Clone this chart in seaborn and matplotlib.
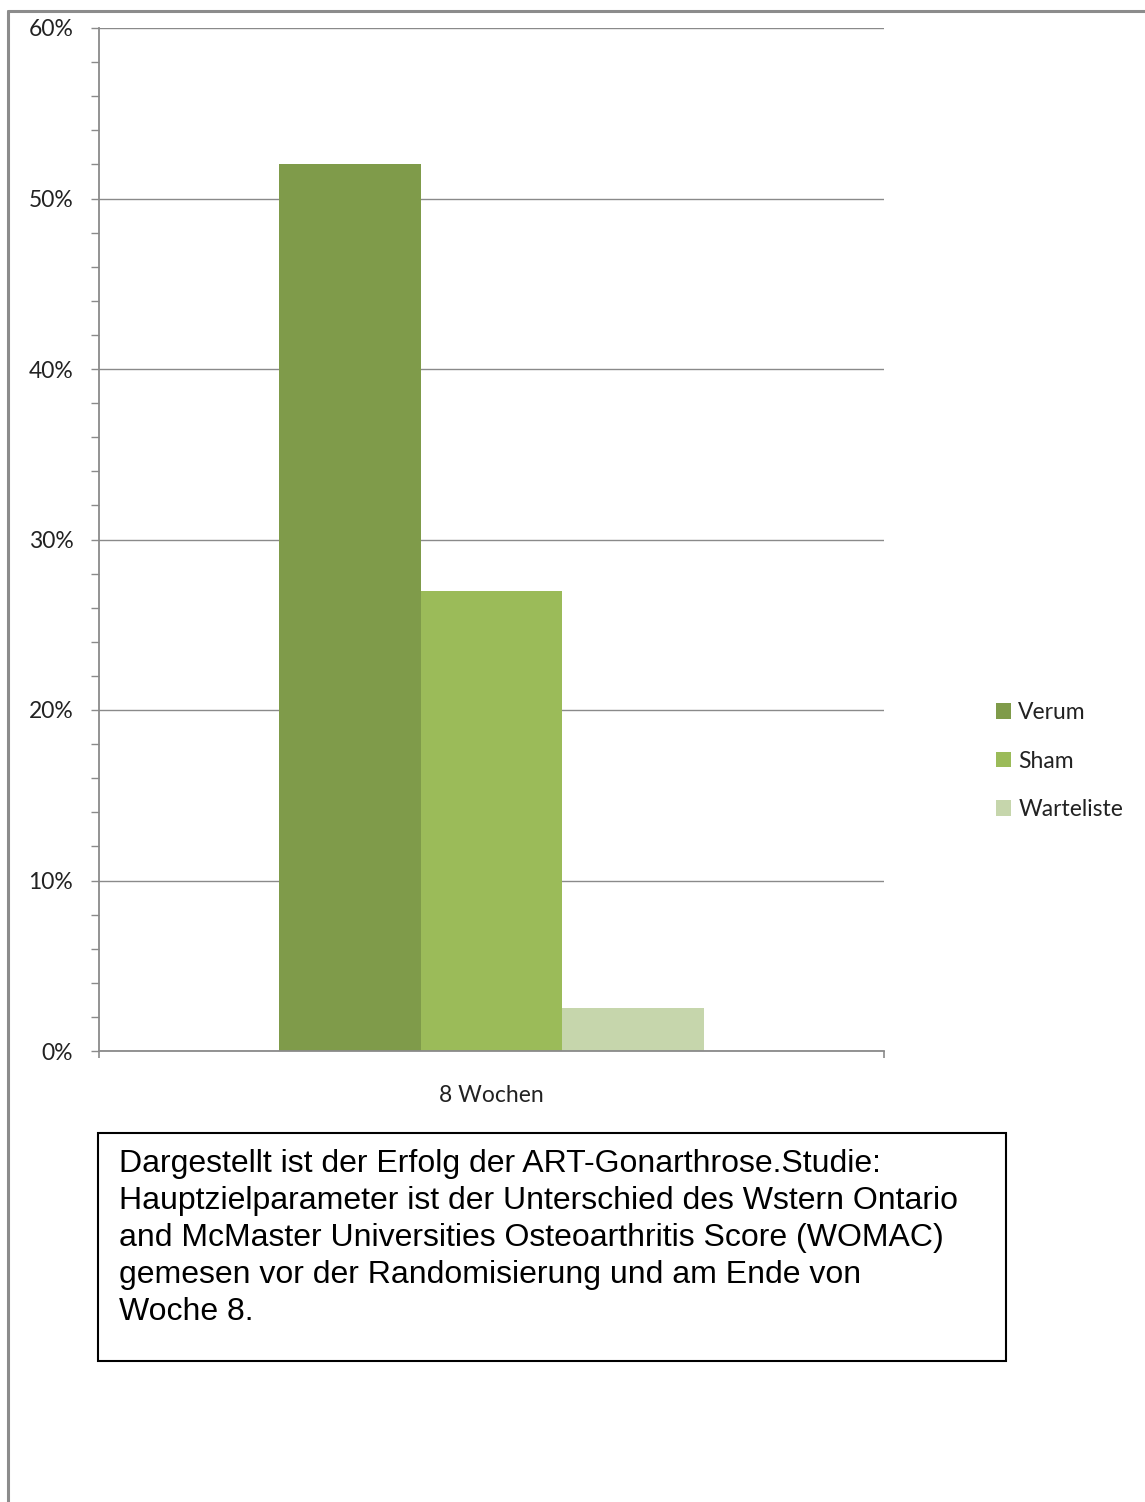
import matplotlib
matplotlib.use("Agg")
import matplotlib.pyplot as plt
from matplotlib.lines import Line2D
from matplotlib.patches import Rectangle
from matplotlib.ticker import MultipleLocator, FuncFormatter, FixedLocator
import seaborn as sns
import pandas as pd

# ---- data ----
categories = ["8 Wochen"]
groups = ["Verum", "Sham", "Warteliste"]
values = [52.0, 27.0, 2.5]
colors = ["#7f9b4a", "#9bbb59", "#c6d6ac"]
yticks = [0, 10, 20, 30, 40, 50, 60]
caption = ("Dargestellt ist der Erfolg der ART-Gonarthrose.Studie:\n"
           "Hauptzielparameter ist der Unterschied des Wstern Ontario\n"
           "and McMaster Universities Osteoarthritis Score (WOMAC)\n"
           "gemesen vor der Randomisierung und am Ende von\n"
           "Woche 8.")

df = pd.DataFrame({"Zeit": categories * len(groups),
                   "Gruppe": groups,
                   "Anteil": values})

sns.set_style("white")
plt.rcParams["font.family"] = ["Lato", "DejaVu Sans"]

W, H = 1145, 1502
fs = 16.5
fig = plt.figure(figsize=(W / 100, H / 100), dpi=100)
ax = fig.add_axes([99 / W, 1 - 1051 / H, 785 / W, 1023 / H])

sns.barplot(data=df, x="Zeit", y="Anteil", hue="Gruppe", hue_order=groups,
            palette=colors, saturation=1, width=0.5414, linewidth=0,
            ax=ax)

ax.set_xlim(-0.5, 0.5)
ax.set_ylim(0, 60)
ax.set_xlabel("")
ax.set_ylabel("")

grid_c = "#8a8a8a"
ax.yaxis.set_major_locator(FixedLocator(yticks))
ax.yaxis.set_minor_locator(MultipleLocator(2))
ax.yaxis.set_major_formatter(FuncFormatter(lambda v, p: f"{v:.0f}%"))
ax.yaxis.grid(True, which="major", color=grid_c, linewidth=1.0)
ax.set_axisbelow(True)
ax.tick_params(axis="y", which="both", direction="out", length=5.5, width=1,
               color=grid_c, left=True, labelsize=fs, pad=13, labelcolor="#222222")

ax.set_xticks([0])
ax.set_xticklabels(categories)
ax.xaxis.set_minor_locator(FixedLocator([-0.5, 0.5]))
ax.tick_params(axis="x", which="major", length=0, pad=24.5, labelsize=fs,
               labelcolor="#222222")
ax.tick_params(axis="x", which="minor", direction="out", length=5, width=1.2,
               color=grid_c, bottom=True)

for s in ["top", "right"]:
    ax.spines[s].set_visible(False)
for s in ["left", "bottom"]:
    ax.spines[s].set_color(grid_c)
    ax.spines[s].set_linewidth(1.3)

sns.move_legend(ax, "center left", bbox_to_anchor=(985 / W, 1 - 761 / H),
                bbox_transform=fig.transFigure, frameon=False, title=None,
                fontsize=fs, handlelength=0.65, handleheight=0.65,
                handletextpad=0.3, labelspacing=1.2, borderpad=0)
for t in ax.get_legend().get_texts():
    t.set_color("#222222")

# caption box
fig.patches.append(Rectangle((98 / W, 1 - 1361 / H), 908 / W, 228 / H,
                             transform=fig.transFigure, fill=False,
                             edgecolor="black", linewidth=1.5))
fig.text(119 / W, 1 - 1149 / H, caption, transform=fig.transFigure,
         ha="left", va="top", fontsize=23, linespacing=1.3,
         family=["Liberation Sans", "DejaVu Sans"], color="black")

# outer frame (top and left edges)
border_c = "#8c8c8c"
fig.add_artist(Line2D([8 / W, 1], [1 - 11 / H, 1 - 11 / H],
                      transform=fig.transFigure, color=border_c, linewidth=2.2))
fig.add_artist(Line2D([8 / W, 8 / W], [0, 1 - 11 / H],
                      transform=fig.transFigure, color=border_c, linewidth=2.2))

fig.savefig("out.png", dpi=100)
